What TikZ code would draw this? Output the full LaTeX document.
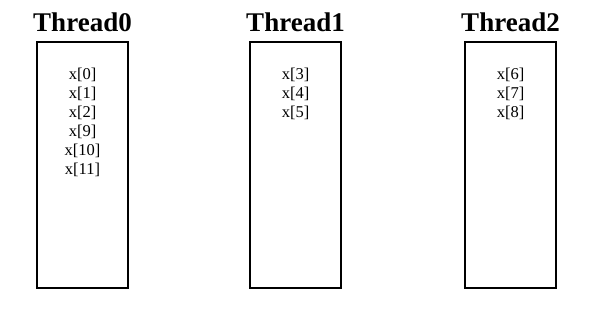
\documentclass[tikz,border=0pt]{standalone}
\usepackage{fontspec}
\setmainfont{Liberation Serif}
\usetikzlibrary{positioning}
\tikzset{
	threadbox/.style={draw, line width=1.3pt, minimum width=91pt, minimum height=246pt, inner sep=0pt},
	threadname/.style={font=\fontsize{27}{27}\selectfont\bfseries, inner sep=0pt, anchor=base},
	itemlist/.style={font=\fontsize{16.5}{19}\selectfont, inner sep=0pt, anchor=base}
}
\begin{document}
\begin{tikzpicture}[x=1pt,y=1pt]
		\useasboundingbox (0,0) rectangle (603,320);
		\foreach \n/\px/\vals in{
				0/37/{0,1,2,9,10,11},
				1/250/{3,4,5},
				2/465/{6,7,8}}{
		\pgfmathsetmacro{\bx}{\px+45.5}
		\node[threadbox](t\n) at (\bx,155){};
		\node[threadname](h\n) at ([yshift=10pt]t\n.north){Thread\n};
		\foreach \v [count=\k] in \vals{
				\pgfmathsetmacro{\dy}{-19-19*\k}
				\node[itemlist](c\n\k) at ([yshift=\dy pt]t\n.north){x[\v]};
		}
		}
\end{tikzpicture}
\end{document}
